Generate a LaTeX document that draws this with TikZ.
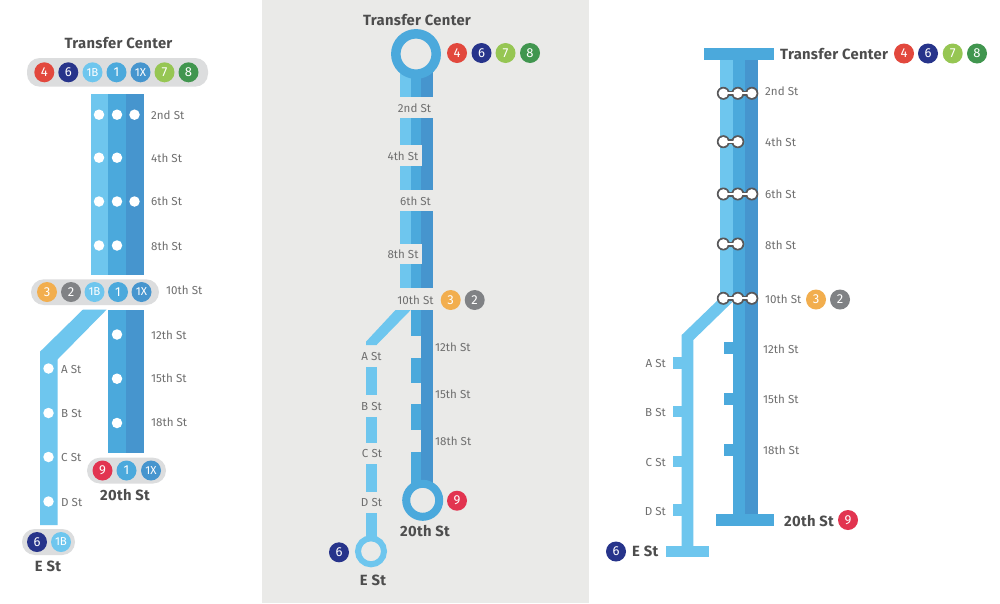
\documentclass[tikz,border=0pt]{standalone}
\usepackage{fontspec}
\setmainfont{Fira Sans}
\definecolor{lblue}{HTML}{6EC6EE}
\definecolor{mblue}{HTML}{4BA9DC}
\definecolor{dblue}{HTML}{4695CE}
\definecolor{cred}{HTML}{E2483D}
\definecolor{cnavy}{HTML}{27348B}
\definecolor{clime}{HTML}{96C653}
\definecolor{cgreen}{HTML}{41964F}
\definecolor{corange}{HTML}{F2AE4E}
\definecolor{cgray}{HTML}{808285}
\definecolor{ccrim}{HTML}{E23450}
\definecolor{pillc}{HTML}{DCDDDE}
\definecolor{panelc}{HTML}{EAEAE8}
\definecolor{lab}{HTML}{6F6F6F}
\definecolor{head}{HTML}{4D4D4D}
\definecolor{ringc}{HTML}{58585A}
\tikzset{
  badge/.style={circle,inner sep=0pt,minimum size=20pt,text=white,font=\fontsize{13}{13}\selectfont},
  b4/.style={badge,fill=cred},
  b6/.style={badge,fill=cnavy},
  b7/.style={badge,fill=clime},
  b8/.style={badge,fill=cgreen},
  b3/.style={badge,fill=corange},
  b2/.style={badge,fill=cgray},
  b9/.style={badge,fill=ccrim},
  b1B/.style={badge,fill=lblue,font=\fontsize{11.5}{11.5}\selectfont},
  b1/.style={badge,fill=mblue},
  b1X/.style={badge,fill=dblue,font=\fontsize{11.5}{11.5}\selectfont},
  stn/.style={text=lab,inner sep=0pt,font=\fontsize{11.6}{11.6}\selectfont},
  ttl/.style={text=head,inner sep=0pt,font=\fontsize{14.8}{14.8}\selectfont\bfseries\addfontfeature{LetterSpace=2}},
  pill/.style={fill=pillc,rounded corners=12.8pt},
  dot/.style={circle,fill=white,inner sep=0pt,minimum size=10.5pt},
  pout/.style={fill=ringc,draw=none},
  pin/.style={fill=white,draw=none},
}
\newcommand{\peanut}[2]{% #1 y, #2 last x
  \fill[pout] (723.3,#1-2.5) rectangle (#2,#1+2.5);
  \foreach \cx in {723.3,737.8,751.8}{\pgfmathparse{\cx<=#2+0.1?1:0}\ifnum\pgfmathresult=1 \fill[pout] (\cx,#1) circle[radius=6.5];\fi}
  \fill[pin] (723.3,#1-1.1) rectangle (#2,#1+1.1);
  \foreach \cx in {723.3,737.8,751.8}{\pgfmathparse{\cx<=#2+0.1?1:0}\ifnum\pgfmathresult=1 \fill[pin] (\cx,#1) circle[radius=4.8];\fi}
}
\begin{document}
\begin{tikzpicture}[x=1pt,y=-1pt]
\useasboundingbox (0,0) rectangle (1000,603);
\fill[white] (0,0) rectangle (1000,603);
\fill[panelc] (262,0) rectangle (589,603);

%%% LEFT
\fill[lblue] (90.5,93.5) rectangle (108,274.5);
\fill[mblue] (108,93.5) rectangle (126,274.5);
\fill[dblue] (126,93.5) rectangle (144,274.5);
\fill[mblue] (108,309.5) rectangle (126,453);
\fill[dblue] (126,309.5) rectangle (144,453);
\fill[lblue] (83,309.5) -- (106.7,309.5) -- (57.7,359.3) -- (57.7,525) -- (40,525) -- (40,351.7) -- cycle;
\foreach \yy/\nm in {114.7/a,157.7/b,201.5/c,245.5/d}{
  \node[dot] (L1\nm) at (99,\yy) {};
  \node[dot] (L2\nm) at (117,\yy) {};
}
\node[dot] (L3a) at (134.5,114.7) {};
\node[dot] (L3c) at (134.5,201.5) {};
\foreach \yy/\nm in {334.5/e,378.7/f,423/g}{\node[dot] (L2\nm) at (117,\yy) {};}
\foreach \yy/\nm in {368.5/h,413/i,457/j,501.5/k}{\node[dot] (L1\nm) at (48.5,\yy) {};}
\fill[pill] (27,58) rectangle (208,86.7);
\fill[pill] (31,279.3) rectangle (159,305);
\fill[pill] (87,457.7) rectangle (166,483.5);
\fill[pill] (22,529) rectangle (75,555);
\node[b4] (la4) at (44.3,72.3) {4};
\node[b6] (la6) at (68.3,72.3) {6};
\node[b1B] (la1B) at (92.5,72.3) {1B};
\node[b1] (la1) at (116.5,72.3) {1};
\node[b1X] (la1X) at (140.5,72.3) {1X};
\node[b7] (la7) at (164.5,72.3) {7};
\node[b8] (la8) at (188.5,72.3) {8};
\node[b3] (lb3) at (47,292) {3};
\node[b2] (lb2) at (71,292) {2};
\node[b1B] (lb1B) at (94.5,292) {1B};
\node[b1] (lb1) at (118,292) {1};
\node[b1X] (lb1X) at (141.5,292) {1X};
\node[b9] (lc9) at (102.5,470.5) {9};
\node[b1] (lc1) at (126.5,470.5) {1};
\node[b1X] (lc1X) at (151,470.5) {1X};
\node[b6] (ld6) at (37,542) {6};
\node[b1B] (ld1B) at (61,542) {1B};
\node[ttl] (ltt) at (118.5,43) {Transfer Center};
\node[ttl] (l20) at (125,495) {20th St};
\node[ttl] (lE) at (48,566) {E St};
\foreach \yy/\tx/\nm in {115/2nd St/a,158/4th St/b,201.5/6th St/c,246/8th St/d}
  \node[stn,anchor=west] (lt\nm) at (151,\yy) {\tx};
\node[stn,anchor=west] (lt10) at (166,290.5) {10th St};
\foreach \yy/\tx/\nm in {335/12th St/e,378.5/15th St/f,422.5/18th St/g}
  \node[stn,anchor=west] (lt\nm) at (151,\yy) {\tx};
\foreach \yy/\tx/\nm in {369/A St/h,413.5/B St/i,457.5/C St/j,502/D St/k}
  \node[stn,anchor=west] (lt\nm) at (61,\yy) {\tx};

%%% MIDDLE
\fill[lblue] (399.5,60) rectangle (410.7,96.5);
\fill[mblue] (410.7,60) rectangle (421,96.5);
\fill[dblue] (421,60) rectangle (433,96.5);
\foreach \ya/\yb in {117.7/190.3,210.7/288.3}{
  \fill[lblue] (399.5,\ya) rectangle (410.7,\yb);
  \fill[mblue] (410.7,\ya) rectangle (421,\yb);
  \fill[dblue] (421,\ya) rectangle (433,\yb);
}
\fill[panelc] (395,145.3) rectangle (421.7,165.7);
\fill[panelc] (395,243.7) rectangle (421.7,264.3);
\fill[dblue] (421,310) rectangle (433,490);
\foreach \ya/\yb in {310/336,357.7/383,404/430,452/490}
  \fill[mblue] (410.7,\ya) rectangle (421,\yb);
\fill[lblue] (395.5,310) -- (410.7,310) -- (376.5,345) -- (366,345) -- (366,341.7) -- cycle;
\foreach \ya/\yb in {366.7/395.3,416.7/443.3,464.3/492,513.3/540}
  \fill[lblue] (366,\ya) rectangle (376.7,\yb);
\draw[mblue,line width=9.5pt,fill=panelc] (416,54) circle[radius=20.2];
\draw[mblue,line width=8pt,fill=panelc] (422.7,500.3) circle[radius=16.5];
\draw[lblue,line width=6pt,fill=panelc] (371,551.3) circle[radius=13];
\node[ttl] (mtt) at (417,20) {Transfer Center};
\node[ttl] (m20) at (425,531) {20th St};
\node[ttl] (mE) at (373,580) {E St};
\node[b4] (ma4) at (457,53) {4};
\node[b6] (ma6) at (481.5,53) {6};
\node[b7] (ma7) at (505.5,53) {7};
\node[b8] (ma8) at (530,53) {8};
\node[b3] (mb3) at (450.7,300) {3};
\node[b2] (mb2) at (474.7,300) {2};
\node[b9] (mc9) at (457,500.7) {9};
\node[b6] (md6) at (339,552.3) {6};
\foreach \xx/\yy/\tx/\nm in {414.5/108/2nd St/a,403/156/4th St/b,415.5/201/6th St/c,403/254.5/8th St/d,415.5/300/10th St/j,371.5/356.5/A St/k,371.5/406/B St/l,372/453.5/C St/m,371.5/502.5/D St/n}
  \node[stn] (mt\nm) at (\xx,\yy) {\tx};
\foreach \yy/\tx/\nm in {347/12th St/e,394/15th St/f,441.5/18th St/g}
  \node[stn,anchor=west] (mt\nm) at (435,\yy) {\tx};

%%% RIGHT
\fill[lblue] (720,60) rectangle (732.7,298);
\fill[mblue] (732.7,60) rectangle (744.7,514);
\fill[dblue] (744.7,60) rectangle (757.7,514);
\fill[mblue] (704,48.3) rectangle (773.5,60);
\fill[lblue] (720,298) -- (732.7,301.7) -- (693.3,340) -- (693.3,546) -- (681.7,546) -- (681.7,335) -- cycle;
\fill[lblue] (666,546) rectangle (709.3,557.3);
\fill[mblue] (715.7,514) rectangle (774.3,526);
\foreach \ya/\yb in {356.7/369,405.7/417.3,455.7/467.3,504.3/516}
  \fill[lblue] (672.7,\ya) rectangle (682,\yb);
\foreach \ya/\yb in {342.3/354.3,393/405,443.7/455.7}
  \fill[mblue] (724,\ya) rectangle (733,\yb);
\peanut{93.3}{751.8}
\peanut{141.7}{737.8}
\peanut{194}{751.8}
\peanut{244}{737.8}
\peanut{298.3}{751.8}
\node[ttl,anchor=west] (rtt) at (780,54) {Transfer Center};
\node[ttl,anchor=west] (r20) at (784,521) {20th St};
\node[ttl,anchor=west] (rE) at (632,551.5) {E St};
\node[b4] (ra4) at (904,53.5) {4};
\node[b6] (ra6) at (928,53.5) {6};
\node[b7] (ra7) at (952.7,53.5) {7};
\node[b8] (ra8) at (977,53.5) {8};
\node[b3] (rb3) at (816,299.5) {3};
\node[b2] (rb2) at (840,299.5) {2};
\node[b9] (rc9) at (848,520) {9};
\node[b6] (rd6) at (616,551.5) {6};
\foreach \yy/\tx/\nm in {91/2nd St/a,142.5/4th St/b,194/6th St/c,245/8th St/d}
  \node[stn,anchor=west] (rt\nm) at (765,\yy) {\tx};
\node[stn,anchor=west] (rt10) at (765,299) {10th St};
\foreach \yy/\tx/\nm in {349/12th St/e,399/15th St/f,450/18th St/g}
  \node[stn,anchor=west] (rt\nm) at (763,\yy) {\tx};
\foreach \yy/\tx/\nm in {363/A St/h,412/B St/i,462/C St/j,511/D St/k}
  \node[stn,anchor=east] (rt\nm) at (666,\yy) {\tx};
\end{tikzpicture}
\end{document}
